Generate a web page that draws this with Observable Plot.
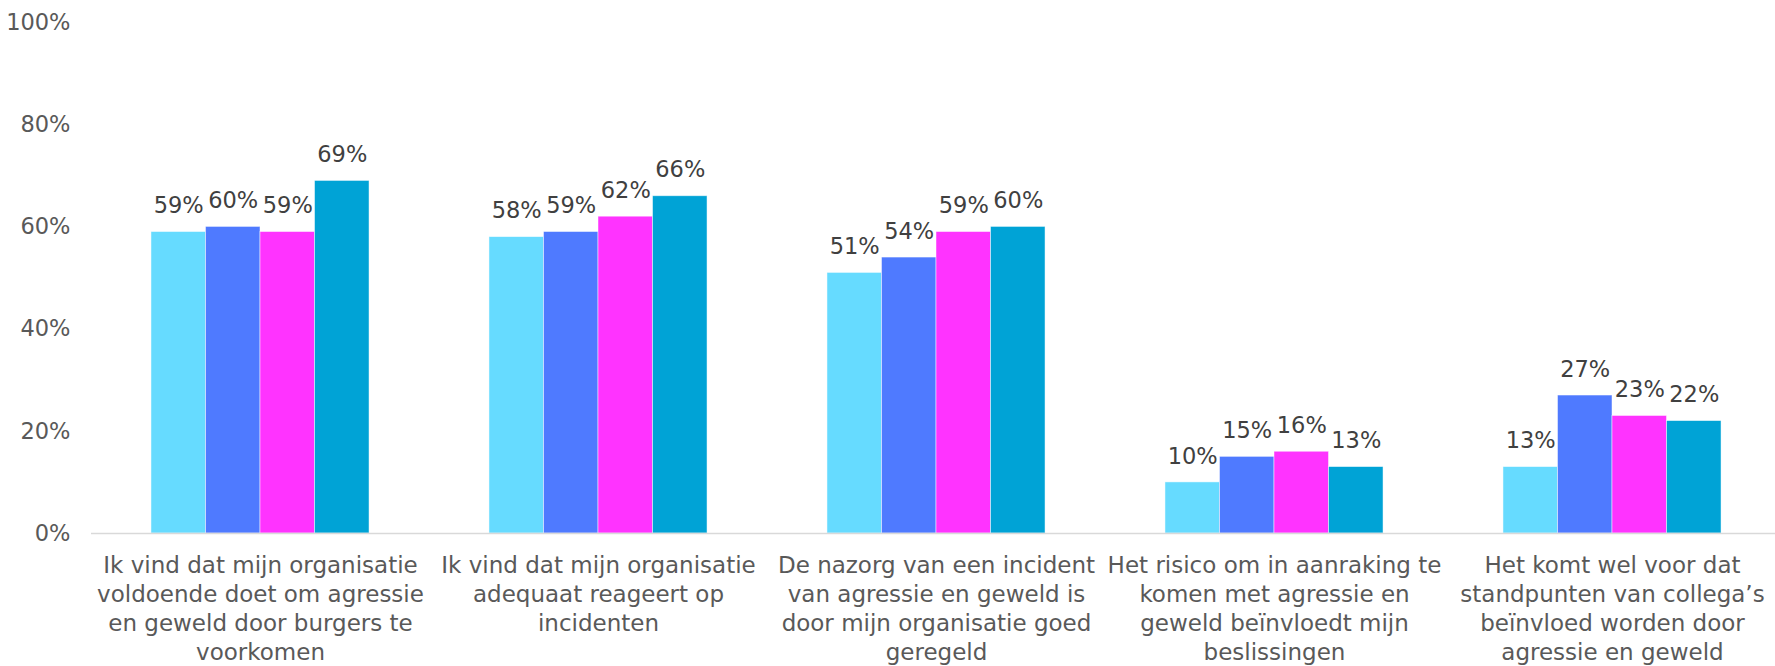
<!DOCTYPE html>
<html>
<head>
<meta charset="utf-8">
<script src="https://cdn.jsdelivr.net/npm/d3@7"></script>
<script src="https://cdn.jsdelivr.net/npm/@observablehq/plot@0.6"></script>
<style>
  html, body { margin: 0; padding: 0; background: #ffffff; }
  #chart { width: 1775px; height: 666px; overflow: hidden; }
</style>
</head>
<body>
<div id="chart"></div>
<script>
// Categories (statements) and their wrapped tick labels
const categories = [
  "Ik vind dat mijn organisatie voldoende doet om agressie en geweld door burgers te voorkomen",
  "Ik vind dat mijn organisatie adequaat reageert op incidenten",
  "De nazorg van een incident van agressie en geweld is door mijn organisatie goed geregeld",
  "Het risico om in aanraking te komen met agressie en geweld beïnvloedt mijn beslissingen",
  "Het komt wel voor dat standpunten van collega’s beïnvloed worden door agressie en geweld"
];
const categoryTickLabels = [
  "Ik vind dat mijn organisatie\nvoldoende doet om agressie\nen geweld door burgers te\nvoorkomen",
  "Ik vind dat mijn organisatie\nadequaat reageert op\nincidenten",
  "De nazorg van een incident\nvan agressie en geweld is\ndoor mijn organisatie goed\ngeregeld",
  "Het risico om in aanraking te\nkomen met agressie en\ngeweld beïnvloedt mijn\nbeslissingen",
  "Het komt wel voor dat\nstandpunten van collega’s\nbeïnvloed worden door\nagressie en geweld"
];

// Series (four measurements, no legend in the original)
const seriesNames = ["Reeks 1", "Reeks 2", "Reeks 3", "Reeks 4"];
const reeks1 = [59, 58, 51, 10, 13];
const reeks2 = [60, 59, 54, 15, 27];
const reeks3 = [59, 62, 59, 16, 23];
const reeks4 = [69, 66, 60, 13, 22];

// Y axis ticks
const yTicks = [0, 20, 40, 60, 80, 100];

// Series colours
const seriesColors = ["#66DBFF", "#4F7AFF", "#FF33FF", "#00A3D6"];

const seriesValues = [reeks1, reeks2, reeks3, reeks4];
const data = seriesNames.flatMap((s, si) =>
  categories.map((c, ci) => ({category: c, series: s, value: seriesValues[si][ci]}))
);

const chart = Plot.plot({
  width: 1775,
  height: 666,
  marginTop: 22,
  marginBottom: 133,
  marginLeft: 91,
  marginRight: -6,
  style: {fontFamily: "'DejaVu Sans', sans-serif", fontSize: "23px", background: "#ffffff"},
  fx: {domain: categories, paddingInner: 0, paddingOuter: 0, round: false, label: null},
  x: {domain: seriesNames, paddingInner: 0, paddingOuter: 1.1, round: false, axis: null},
  y: {domain: [0, 100], axis: null},
  color: {domain: seriesNames, range: seriesColors},
  marks: [
    Plot.barY(data, {fx: "category", x: "series", y: "value", fill: "series", stroke: "#ffffff", strokeOpacity: 0.6, strokeWidth: 0.8}),
    Plot.ruleY([0], {stroke: "#D9D9D9", strokeWidth: 1.5}),
    Plot.text(data, {fx: "category", x: "series", y: "value", text: d => d.value + "%", dy: -26, fontSize: 22.5, fill: "#404040"}),
    Plot.axisY({ticks: yTicks, tickSize: 0, tickPadding: 21, tickFormat: d => d + "%", fontSize: 22.5, fill: "#595959", label: null}),
    Plot.axisFx({anchor: "bottom", tickSize: 0, tickPadding: 19, lineHeight: 1.26,
      tickFormat: c => categoryTickLabels[categories.indexOf(c)], fontSize: 23, fill: "#595959", label: null})
  ]
});
document.getElementById("chart").appendChild(chart);
</script>
</body>
</html>
